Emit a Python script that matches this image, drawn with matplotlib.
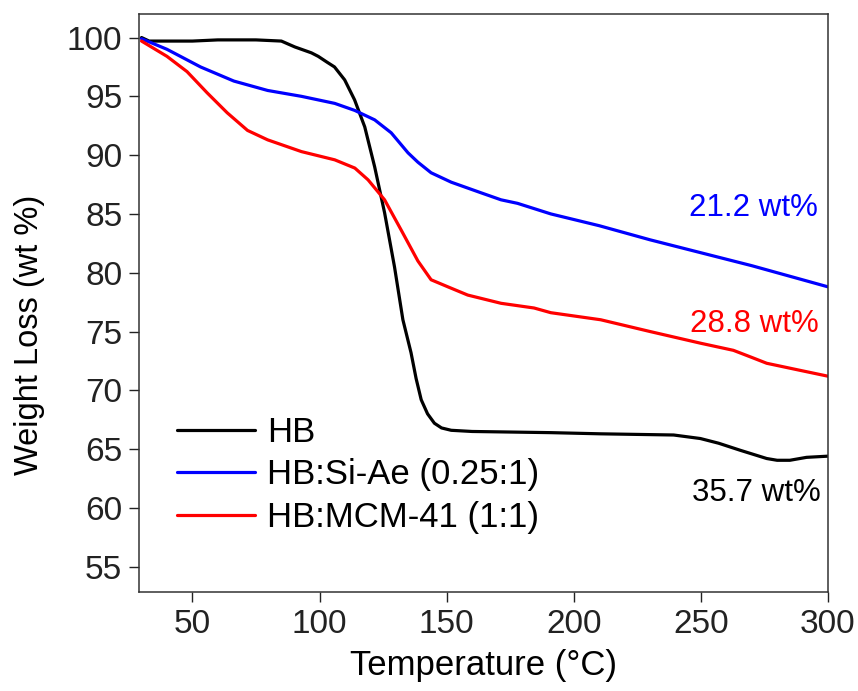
import matplotlib
matplotlib.use("Agg")
import matplotlib.pyplot as plt

plt.rcParams["font.family"] = ["Liberation Sans", "DejaVu Sans"]

# TGA curves
hb_temp = [30, 33, 50, 60, 75, 85, 90.3, 96.8, 99.5, 103, 105.9, 109.9, 113.8, 117.8, 121.7,
           125.6, 129.5, 132.8, 136, 138, 140, 142.5, 145.2, 148, 151.8, 160, 191, 210.6,
           239.3, 249.8, 257, 265.5, 275.9, 280, 285, 291.6, 300]
hb_weight = [100, 99.7, 99.7, 99.8, 99.8, 99.7, 99.2, 98.7, 98.4, 97.9, 97.5, 96.4, 94.7,
             92.4, 89.0, 85.1, 80.5, 76.0, 73.2, 71.0, 69.2, 68.0, 67.2, 66.8, 66.6, 66.5,
             66.4, 66.3, 66.2, 65.9, 65.5, 64.9, 64.2, 64.05, 64.05, 64.3, 64.4]

si_temp = [30, 40, 53.2, 66.3, 79.6, 92.9, 106, 113.9, 121.7, 128.2, 134.8, 138.7, 143.9,
           151.8, 158.3, 163.5, 171.4, 177.9, 191, 210, 230, 250, 270, 285, 300]
si_weight = [99.9, 99.0, 97.5, 96.3, 95.5, 95.0, 94.4, 93.8, 93.0, 91.9, 90.2, 89.4, 88.5,
             87.7, 87.2, 86.8, 86.2, 85.9, 85.0, 84.0, 82.8, 81.7, 80.6, 79.7, 78.8]

mcm_temp = [30, 40, 47.9, 55.8, 63.7, 71.7, 79.6, 92.9, 106, 113.9, 119.1, 125.6, 132.2,
            138.7, 143.9, 150.5, 158.3, 171.4, 184.4, 191, 210.6, 230, 240, 250, 262.8,
            270, 275.9, 289, 300]
mcm_weight = [99.7, 98.4, 97.1, 95.3, 93.6, 92.1, 91.3, 90.3, 89.6, 88.9, 87.9, 86.2, 83.6,
              81.0, 79.4, 78.8, 78.1, 77.4, 77.0, 76.6, 76.0, 75.0, 74.5, 74.0, 73.4, 72.8,
              72.3, 71.7, 71.2]

series_labels = ["HB", "HB:Si-Ae (0.25:1)", "HB:MCM-41 (1:1)"]
loss_labels = ["35.7 wt%", "21.2 wt%", "28.8 wt%"]

fig = plt.figure(figsize=(8.58, 6.91), dpi=100)
ax = fig.add_axes([0.162, 0.1433, 0.803, 0.8364])

line_kw = dict(linewidth=2.3, solid_joinstyle="round", solid_capstyle="round")
ax.plot(hb_temp, hb_weight, color="black", label=series_labels[0], **line_kw)
ax.plot(si_temp, si_weight, color="#0000ff", label=series_labels[1], **line_kw)
ax.plot(mcm_temp, mcm_weight, color="#ff0000", label=series_labels[2], **line_kw)

ax.text(297, 61.3, loss_labels[0], color="black", fontsize=22.5, ha="right", va="center")
ax.text(296, 85.5, loss_labels[1], color="#0000ff", fontsize=22.5, ha="right", va="center")
ax.text(296.5, 75.6, loss_labels[2], color="#ff0000", fontsize=22.5, ha="right", va="center")

ax.set_xlim(29, 300)
ax.set_ylim(52.85, 102)
ax.set_xticks([50, 100, 150, 200, 250, 300])
ax.set_yticks([55, 60, 65, 70, 75, 80, 85, 90, 95, 100])
ax.tick_params(axis="both", direction="out", length=7, width=1, labelsize=24,
               colors="#222222", pad=5)
for spine in ax.spines.values():
    spine.set_color("#333333")
    spine.set_linewidth(1.1)

ax.set_xlabel("Temperature (°C)", fontsize=25, labelpad=7)
ax.set_ylabel("Weight Loss (wt %)", fontsize=23.5)
ax.yaxis.set_label_coords(-0.137, 0.445)

ax.legend(loc="upper left", bbox_to_anchor=(0.2063, 0.398), bbox_transform=fig.transFigure,
          frameon=False, fontsize=25, handlelength=2.25, handletextpad=0.35,
          labelspacing=0.27, borderpad=0, borderaxespad=0)

fig.savefig("out.png", dpi=100)
